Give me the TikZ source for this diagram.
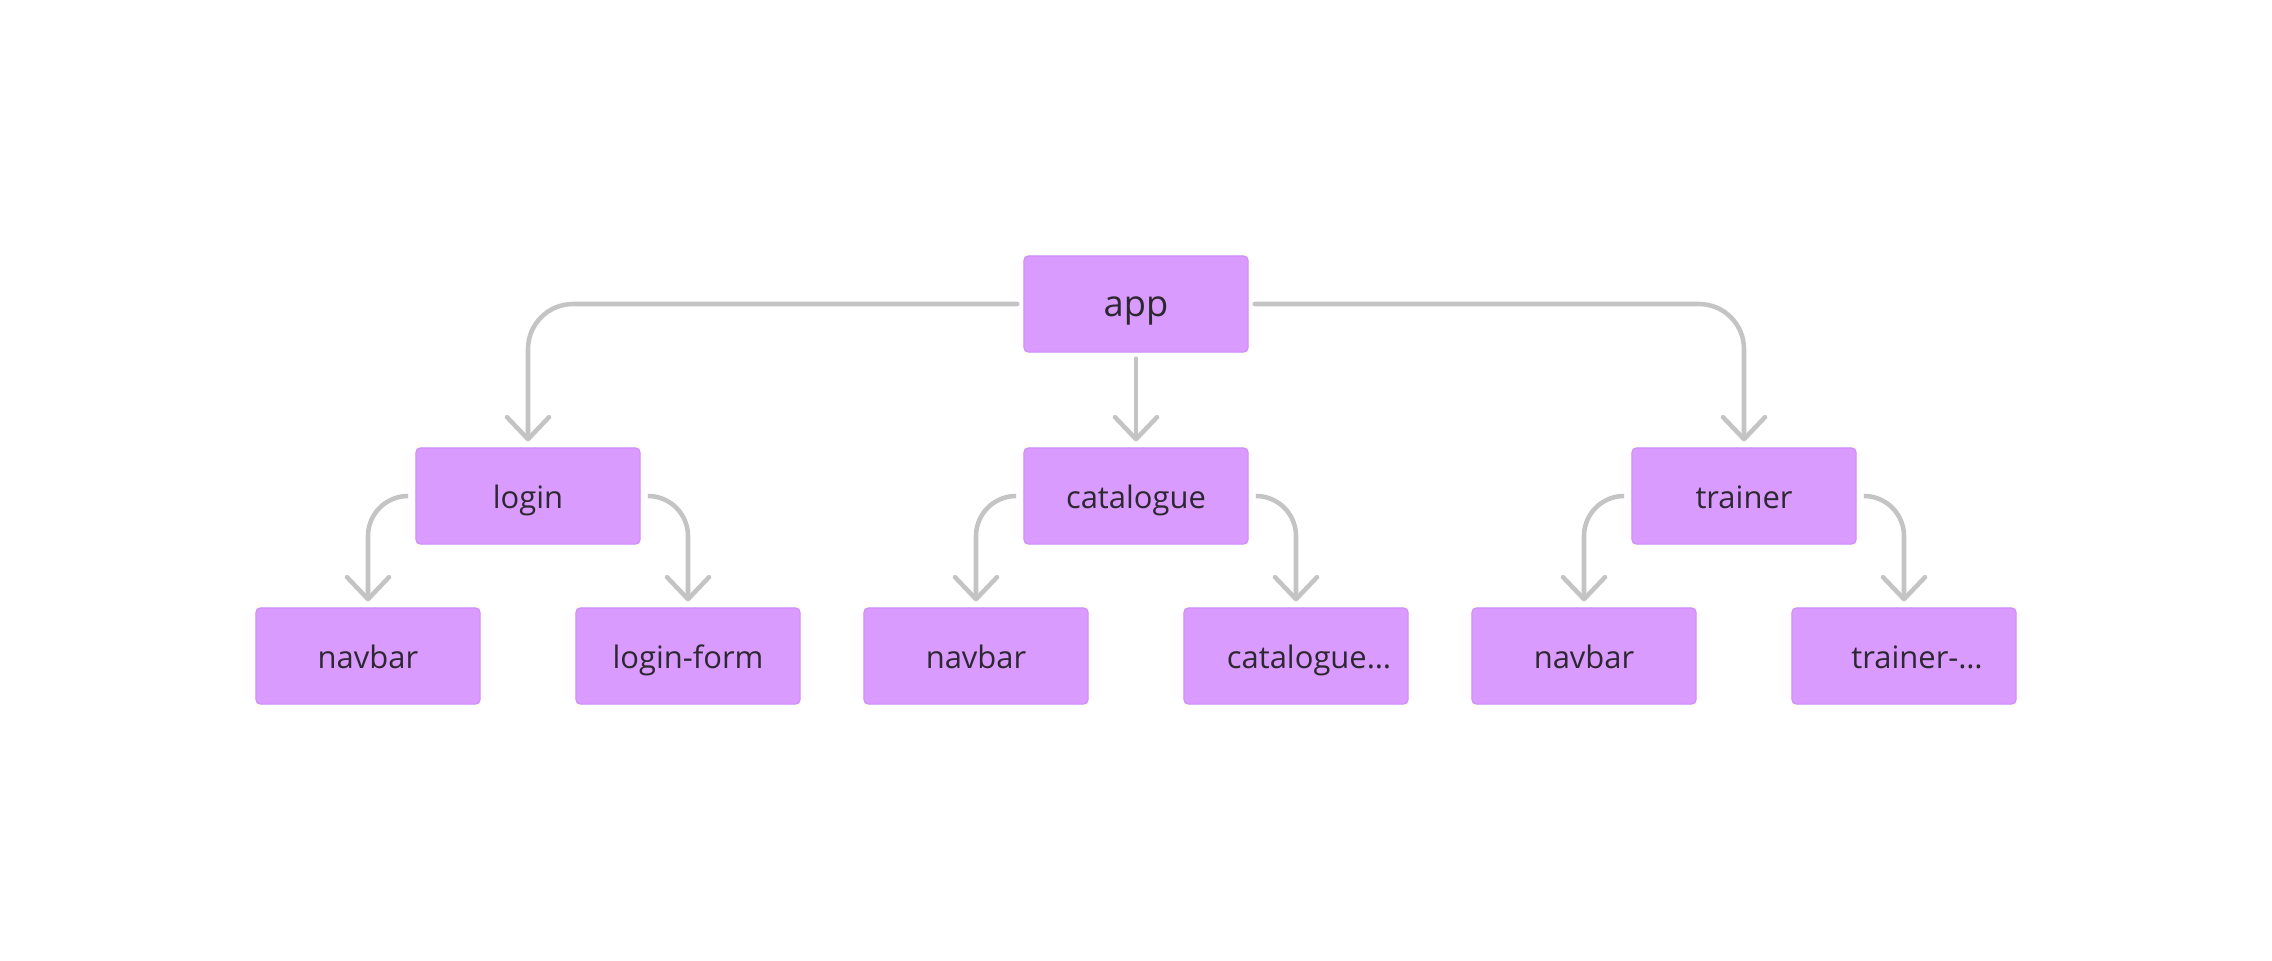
\documentclass[tikz,border=0pt]{standalone}
\usepackage{fontspec}
\setmainfont{Open Sans}
\usepackage{xcolor}
\usepackage{tikz}
\usetikzlibrary{arrows.meta,positioning,calc}

\definecolor{boxfill}{RGB}{217,155,254}
\definecolor{boxline}{RGB}{206,138,248}
\definecolor{wire}{RGB}{196,196,196}
\definecolor{ink}{RGB}{45,40,48}

\tikzset{
  box/.style={fill=boxfill,draw=boxline,line width=0.3pt,rounded corners=1.2pt,
    minimum width=2.24cm,minimum height=0.96cm,inner sep=0pt,text=ink,
    text height=0.24cm,text depth=0cm},
  wireline/.style={draw=wire,line width=1.3pt,line cap=round,
    -{Straight Barb[length=0.22cm,width=0.42cm,round]}},
}

\begin{document}
\begin{tikzpicture}[x=0.01cm,y=-0.01cm,every node/.style={font=\fontsize{8.8}{10}\selectfont}]
  \useasboundingbox (0,0) rectangle (2272,960);
  % top and middle row
  \node[box,font=\fontsize{10.3}{12}\selectfont] (app) at (1136,304) {app};
  \node[box] (login) at (528,496) {login};
  \node[box] (catalogue) at (1136,496) {catalogue};
  \node[box] (trainer) at (1744,496) {trainer};
  % leaves
  \node[box] (navA) at (368,656) {navbar};
  \node[box] (loginform) at (688,656) {login-form};
  \node[box] (navB) at (976,656) {navbar};
  \node[box] (catlist) at (1296,656) {\hspace*{0.26cm}catalogue…};
  \node[box] (navC) at (1584,656) {navbar};
  \node[box] (trainlist) at (1904,656) {\hspace*{0.26cm}trainer-…};

  \draw[wireline,rounded corners=0.45cm,shorten <=0.06cm,shorten >=0.06cm] (app.west) -| (login.north);
  \draw[wireline,rounded corners=0.45cm,shorten <=0.06cm,shorten >=0.06cm] (app.east) -| (trainer.north);
  \draw[wireline,shorten <=0.06cm,shorten >=0.06cm] (app.south) -- (catalogue.north);

  \foreach \p/\l/\r in {login/navA/loginform,catalogue/navB/catlist,trainer/navC/trainlist}{
    \draw[wireline,rounded corners=0.4cm,shorten <=0.08cm,shorten >=0.06cm] (\p.west) -| (\l.north);
    \draw[wireline,rounded corners=0.4cm,shorten <=0.08cm,shorten >=0.06cm] (\p.east) -| (\r.north);
  }
\end{tikzpicture}
\end{document}
